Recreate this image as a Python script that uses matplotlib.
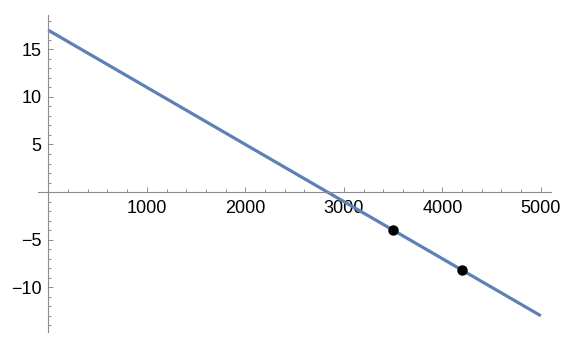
import matplotlib
matplotlib.use('Agg')
import matplotlib.pyplot as plt
from matplotlib.ticker import MultipleLocator, FixedLocator

plt.rcParams['font.family'] = ['Liberation Sans', 'DejaVu Sans']

# 직선의 양 끝과 두 점
line_x = [0, 5000]
line_y = [17, -13]
pts_x = [3500, 4200]
pts_y = [-4, -8.2]
xticks = [1000, 2000, 3000, 4000, 5000]
yticks = [-10, -5, 5, 10, 15]

fig = plt.figure(figsize=(5.73, 3.45), dpi=100)
ax = fig.add_axes([0.0663, 0.0377, 0.8957, 0.9188])

ax.plot(line_x, line_y, color='#5E81B5', lw=2.3, solid_capstyle='butt')
ax.plot(pts_x, pts_y, 'o', color='black', ms=6.5)

ax.set_xlim(-105, 5105)
ax.set_ylim(-14.7, 18.6)

for s in ['top', 'right']:
    ax.spines[s].set_visible(False)
for s in ['left', 'bottom']:
    ax.spines[s].set_position(('data', 0))
    ax.spines[s].set_color('#8c8c8c')
    ax.spines[s].set_linewidth(0.8)

ax.xaxis.set_major_locator(FixedLocator(xticks))
ax.yaxis.set_major_locator(FixedLocator(yticks))
ax.xaxis.set_minor_locator(MultipleLocator(200))
ax.yaxis.set_minor_locator(MultipleLocator(1))
ax.set_xticklabels([str(v) for v in xticks])
ax.set_yticklabels([str(v).replace('-', '\u2212') for v in yticks])

ax.tick_params(which='both', direction='in', color='#8c8c8c', width=0.7,
               labelsize=13, labelcolor='black')
ax.tick_params(which='major', length=3.8)
ax.tick_params(which='minor', length=2.2)
ax.tick_params(axis='x', which='major', pad=6)
ax.tick_params(axis='y', which='major', pad=5)

plt.savefig('out.png', dpi=100)
